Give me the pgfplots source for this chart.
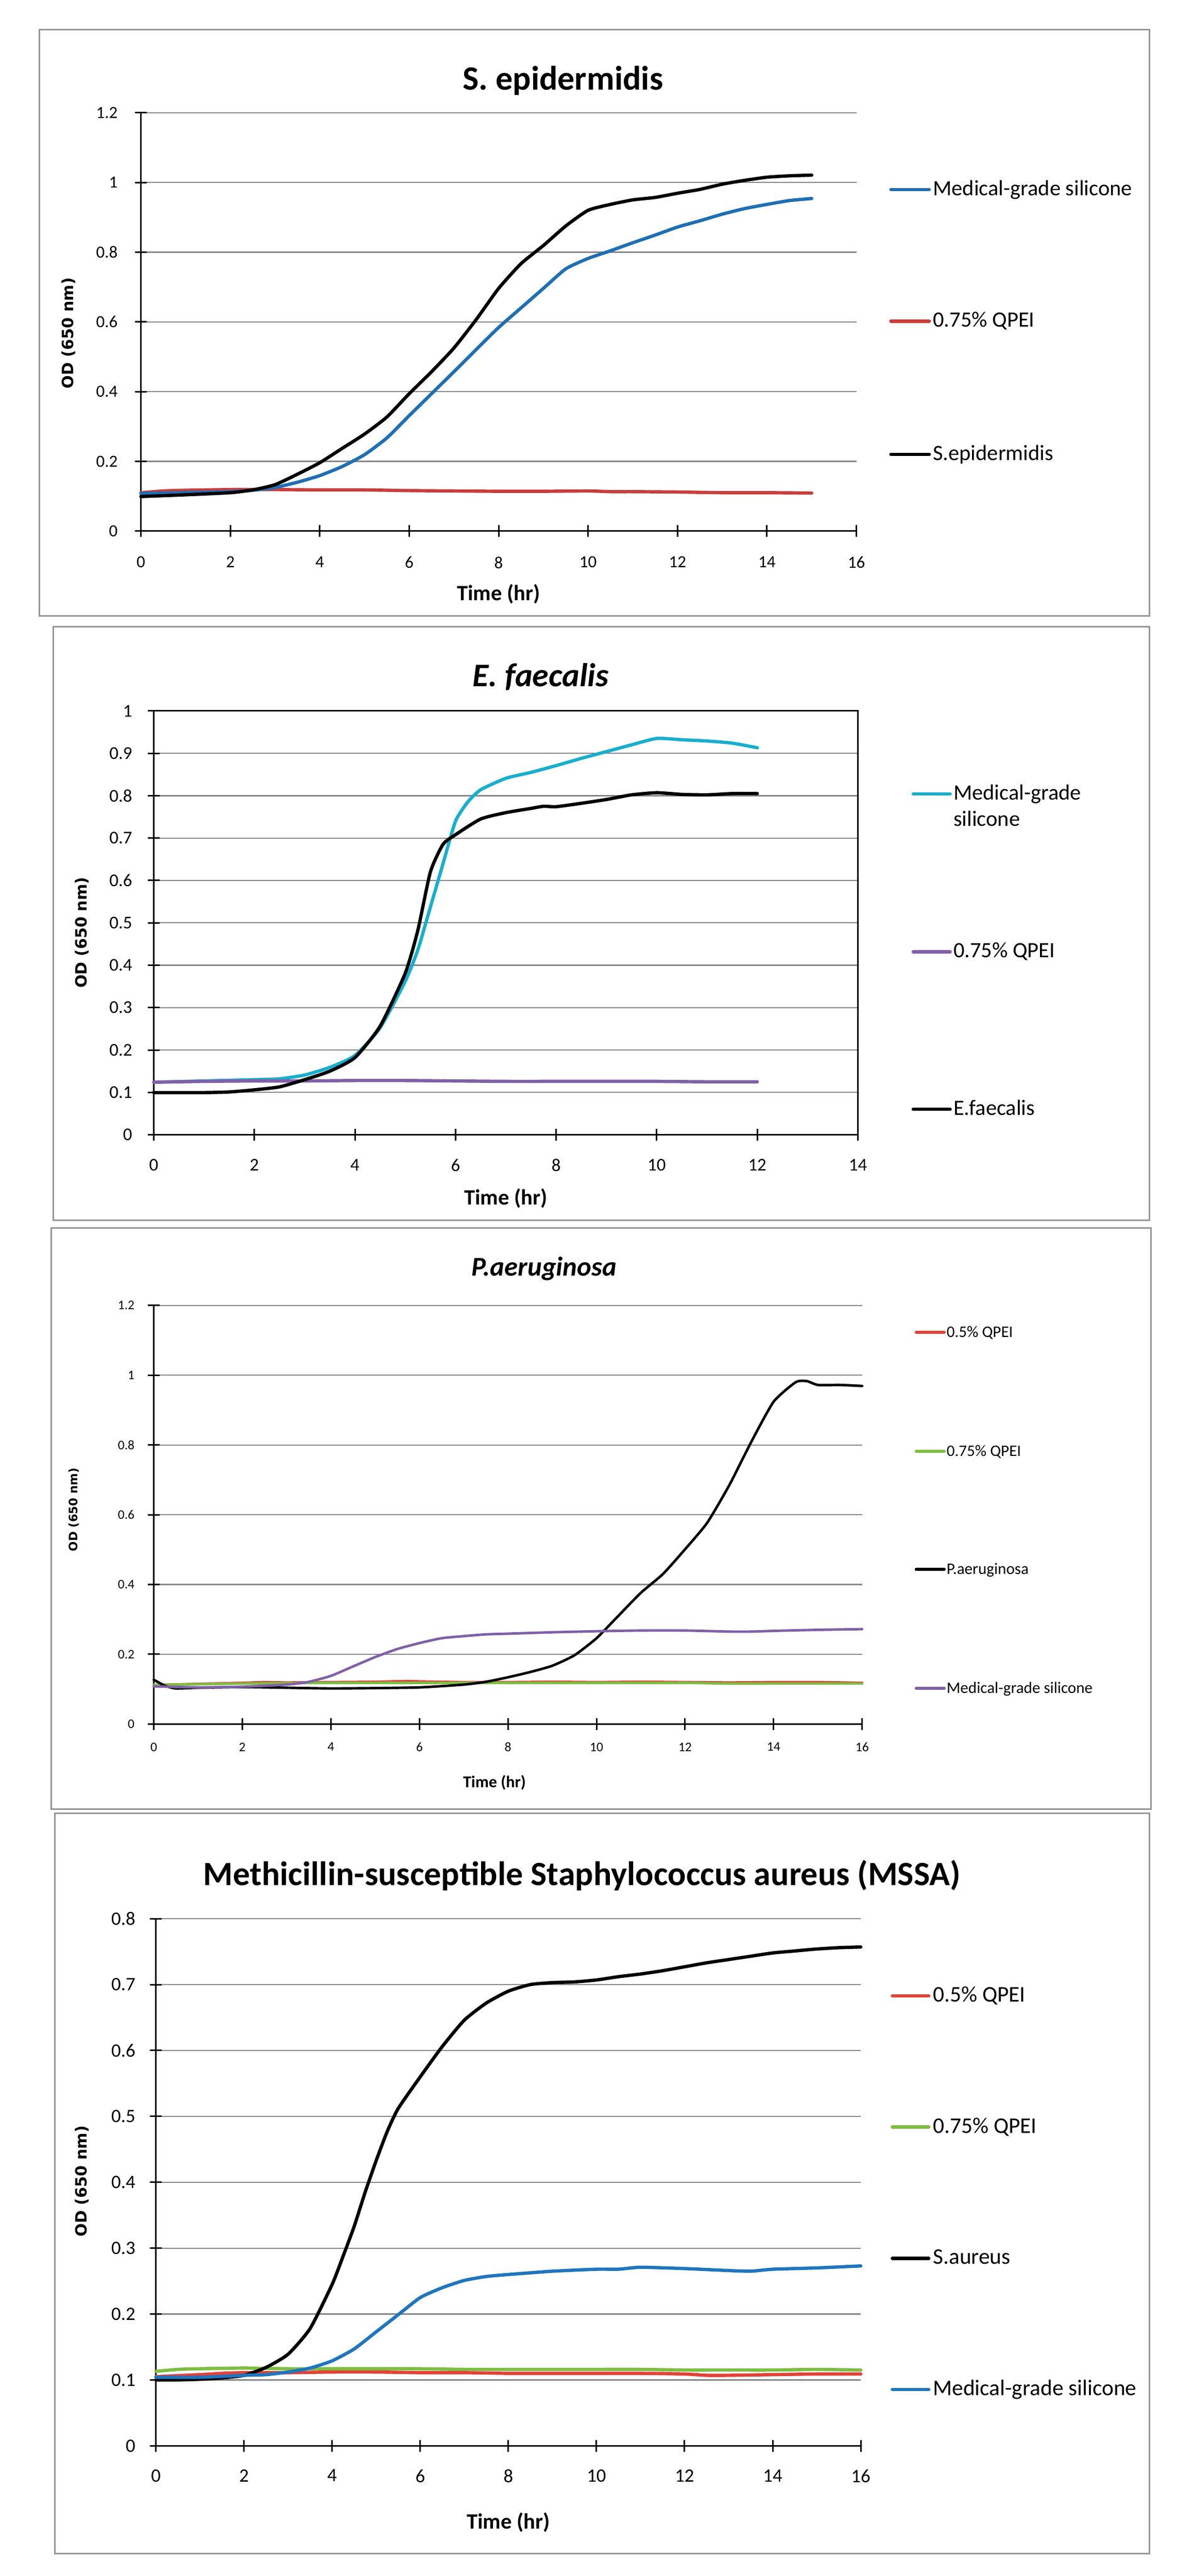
\documentclass[border=0pt]{standalone}
\usepackage{pgfplots}
\pgfplotsset{compat=1.18}
\usepackage{fontspec}
\setmainfont{Carlito}
\newfontfamily\dejavu{DejaVu Sans}
\newcommand{\fs}[1]{\fontsize{#1}{#1}\selectfont}
\definecolor{frameg}{RGB}{150,150,150}
\definecolor{gridg}{RGB}{134,134,134}
\definecolor{pblue}{RGB}{31,111,180}
\definecolor{pred}{RGB}{200,62,60}
\definecolor{pcyan}{RGB}{24,175,205}
\definecolor{ppurple}{RGB}{128,96,168}
\definecolor{pred3}{RGB}{228,66,56}
\definecolor{pgreen}{RGB}{126,190,66}
\definecolor{pblue4}{RGB}{31,118,190}
\pgfplotsset{
  excel/.style={
    scale only axis,
    tick align=center, major tick length=6pt,
    tick style={black, line width=0.8pt},
    ymajorgrids, major grid style={line width=0.6pt, color=gridg},
    /pgf/number format/assume math mode=true,
    xticklabel style={anchor=north, inner sep=0pt},
    yticklabel style={anchor=east, inner sep=0pt},
    every axis plot/.append style={no markers, smooth, tension=0.35, line cap=round, line join=round},
    clip=false,
  },
  noarrows/.style={
    axis line style={-, line width=0.8pt, black},
    x axis line style={-}, y axis line style={-},
  },
}
\begin{document}
\begin{tikzpicture}
\fill[white] (0,0) rectangle (614.25pt,-1325.5pt);
\useasboundingbox (0,0) rectangle (614.25pt,-1325.5pt);
% frames
\draw[frameg, line width=0.8pt] (20.25pt,-15.25pt) rectangle (591.5pt,-317pt);
\draw[frameg, line width=0.8pt] (27.5pt,-322.5pt) rectangle (591.5pt,-628pt);
\draw[frameg, line width=0.8pt] (26.25pt,-631.75pt) rectangle (592.25pt,-931pt);
\draw[frameg, line width=0.8pt] (28.25pt,-933pt) rectangle (591.5pt,-1314pt);

%%%%%%%%%%%%%%%% Panel 1
\begin{axis}[excel, axis lines=left, noarrows,
  at={(72.5pt,-273.25pt)}, anchor=south west,
  width=368.25pt, height=215.25pt,
  xmin=0, xmax=16, ymin=0, ymax=1.2,
  xtick={0,2,...,16}, ytick={0,0.2,0.4,0.6,0.8,1,1.2},
  xticklabel style={font=\fs{8.75pt}, yshift=-10pt},
  yticklabel style={font=\fs{8.75pt}, xshift=-8.75pt},
  xlabel={Time (hr)}, xlabel style={at={(axis description cs:0.5,-0.166)}, anchor=base, font=\fs{11.25pt}\bfseries},
  ylabel={OD (650 nm)}, ylabel style={at={(axis description cs:-0.1012,0.473)}, anchor=center, font=\dejavu\fs{8pt}\bfseries},
  every axis plot/.append style={line width=1.7pt},
]
\addplot[pred] coordinates {(0,0.110) (0.5,0.115) (1,0.117) (2,0.119) (3,0.119) (4,0.118) (5,0.118) (6,0.116) (7,0.115) (8,0.114) (9,0.114) (10,0.115) (10.5,0.113) (11,0.113) (12,0.112) (13,0.110) (14,0.110) (15,0.109)};
\addplot[pblue] coordinates {(0,0.108) (1,0.110) (2,0.113) (2.5,0.117) (3,0.125) (3.5,0.140) (4,0.159) (4.5,0.185) (5,0.219) (5.5,0.267) (6,0.331) (6.5,0.394) (7,0.457) (7.5,0.521) (8,0.584) (8.5,0.640) (9,0.696) (9.5,0.752) (10,0.782) (10.5,0.804) (11,0.827) (11.5,0.849) (12,0.872) (12.5,0.890) (13,0.909) (13.5,0.925) (14,0.937) (14.5,0.948) (15,0.954)};
\addplot[black] coordinates {(0,0.099) (1,0.104) (2,0.110) (2.5,0.118) (3,0.133) (3.5,0.163) (4,0.196) (4.5,0.237) (5,0.278) (5.5,0.327) (6,0.394) (6.5,0.457) (7,0.525) (7.5,0.607) (8,0.696) (8.5,0.767) (9,0.819) (9.5,0.875) (10,0.920) (10.5,0.937) (11,0.950) (11.5,0.957) (12,0.969) (12.5,0.980) (13,0.995) (13.5,1.006) (14,1.015) (14.5,1.019) (15,1.021)};
\end{axis}
\node[font=\fs{17.5pt}\bfseries, anchor=base] at (289.75pt,-46.25pt) {S. epidermidis};
\draw[pblue, line width=1.7pt, line cap=round] (458.5pt,-97.5pt) -- (478.25pt,-97.5pt);
\node[font=\fs{11.25pt}, anchor=base west, inner sep=0pt] at (480pt,-100.5pt) {Medical-grade silicone};
\draw[pred, line width=1.7pt, line cap=round] (458.5pt,-165.25pt) -- (478.25pt,-165.25pt);
\node[font=\fs{11.25pt}, anchor=base west, inner sep=0pt] at (480pt,-168.25pt) {0.75\% QPEI};
\draw[black, line width=1.7pt, line cap=round] (458.5pt,-233.75pt) -- (478.25pt,-233.75pt);
\node[font=\fs{11.25pt}, anchor=base west, inner sep=0pt] at (480pt,-236.75pt) {S.epidermidis};

%%%%%%%%%%%%%%%% Panel 2
\begin{axis}[excel, axis lines=box, xtick pos=left, ytick pos=left,
  axis line style={line width=0.8pt, black},
  at={(79.125pt,-583.9pt)}, anchor=south west,
  width=362.4pt, height=218.1pt,
  xmin=0, xmax=14, ymin=0, ymax=1,
  xtick={0,2,...,14}, ytick={0,0.1,0.2,0.3,0.4,0.5,0.6,0.7,0.8,0.9,1},
  xticklabel style={font=\fs{9.25pt}, yshift=-9.4pt},
  yticklabel style={font=\fs{9.25pt}, xshift=-7.9pt},
  xlabel={Time (hr)}, xlabel style={at={(axis description cs:0.5,-0.165)}, anchor=base, font=\fs{11.25pt}\bfseries},
  ylabel={OD (650 nm)}, ylabel style={at={(axis description cs:-0.1018,0.477)}, anchor=center, font=\dejavu\fs{8pt}\bfseries},
  every axis plot/.append style={line width=1.7pt},
]
\addplot[pcyan] coordinates {(0,0.124) (1,0.127) (2,0.130) (2.5,0.132) (3,0.141) (3.5,0.159) (4,0.187) (4.5,0.252) (5,0.362) (5.25,0.436) (5.5,0.537) (5.75,0.639) (6,0.740) (6.25,0.786) (6.5,0.814) (7,0.841) (7.5,0.855) (8,0.871) (8.5,0.888) (9,0.904) (9.5,0.920) (10,0.935) (10.5,0.932) (11,0.929) (11.5,0.924) (12,0.913)};
\addplot[ppurple] coordinates {(0,0.124) (1,0.126) (2,0.127) (3,0.127) (4,0.128) (5,0.128) (6,0.127) (7,0.126) (8,0.126) (9,0.126) (10,0.126) (11,0.125) (12,0.125)};
\addplot[black] coordinates {(0,0.0995) (1,0.0995) (1.5,0.101) (2,0.106) (2.5,0.113) (3,0.130) (3.5,0.150) (4,0.182) (4.5,0.256) (5,0.381) (5.25,0.482) (5.5,0.620) (5.75,0.685) (6,0.708) (6.5,0.745) (7,0.760) (7.5,0.770) (7.75,0.775) (8,0.774) (8.5,0.782) (9,0.791) (9.5,0.802) (10,0.807) (10.5,0.803) (11,0.802) (11.5,0.805) (12,0.805)};
\end{axis}
\node[font=\fs{17pt}\bfseries\itshape, anchor=base] at (278.25pt,-353.3pt) {E. faecalis};
\draw[pcyan, line width=1.7pt, line cap=round] (470pt,-408.5pt) -- (489pt,-408.5pt);
\node[font=\fs{11.25pt}, anchor=base west, inner sep=0pt] at (490.5pt,-411.5pt) {Medical-grade};
\node[font=\fs{11.25pt}, anchor=base west, inner sep=0pt] at (490.5pt,-425pt) {silicone};
\draw[ppurple, line width=1.7pt, line cap=round] (470pt,-489.75pt) -- (489pt,-489.75pt);
\node[font=\fs{11.25pt}, anchor=base west, inner sep=0pt] at (490.5pt,-492.75pt) {0.75\% QPEI};
\draw[black, line width=1.7pt, line cap=round] (470pt,-570.75pt) -- (489pt,-570.75pt);
\node[font=\fs{11.25pt}, anchor=base west, inner sep=0pt] at (490.5pt,-573.75pt) {E.faecalis};

%%%%%%%%%%%%%%%% Panel 3
\begin{axis}[excel, axis lines=left, noarrows,
  at={(79.125pt,-887.1pt)}, anchor=south west,
  width=364.6pt, height=215.4pt,
  xmin=0, xmax=16, ymin=0, ymax=1.2,
  xtick={0,2,...,16}, ytick={0,0.2,0.4,0.6,0.8,1,1.2},
  xticklabel style={font=\fs{6.75pt}, yshift=-6.4pt},
  yticklabel style={font=\fs{6.75pt}, xshift=-6.7pt},
  xlabel={Time (hr)}, xlabel style={at={(axis description cs:0.481,-0.1515)}, anchor=base, font=\fs{8.5pt}\bfseries},
  ylabel={OD (650 nm)}, ylabel style={at={(axis description cs:-0.1128,0.512)}, anchor=center, font=\dejavu\fs{6pt}\bfseries},
  every axis plot/.append style={line width=1.3pt},
]
\addplot[pred3] coordinates {(0,0.112) (1,0.115) (2,0.118) (2.5,0.120) (3,0.119) (4,0.120) (5,0.121) (5.75,0.123) (6,0.122) (7,0.120) (8,0.120) (9,0.121) (10,0.120) (11,0.121) (12,0.120) (13,0.119) (14,0.120) (15,0.120) (16,0.118)};
\addplot[pgreen] coordinates {(0,0.112) (1,0.114) (2,0.116) (3,0.117) (4,0.118) (5,0.118) (6,0.118) (7,0.118) (8,0.118) (9,0.118) (10,0.118) (11,0.118) (12,0.118) (13,0.116) (14,0.116) (15,0.116) (16,0.116)};
\addplot[black] coordinates {(0,0.127) (0.25,0.110) (0.5,0.102) (1,0.104) (2,0.106) (3,0.104) (4,0.102) (5,0.103) (6,0.105) (7,0.113) (7.5,0.121) (8,0.134) (8.5,0.149) (9,0.167) (9.5,0.197) (10,0.246) (10.5,0.311) (11,0.376) (11.5,0.430) (12,0.501) (12.5,0.577) (13,0.685) (13.5,0.810) (14,0.924) (14.5,0.980) (14.75,0.983) (15,0.972) (15.5,0.972) (16,0.969)};
\addplot[ppurple] coordinates {(0,0.108) (1,0.105) (2,0.107) (3,0.113) (3.5,0.121) (4,0.138) (4.5,0.165) (5,0.192) (5.5,0.215) (6,0.232) (6.5,0.246) (7,0.252) (7.5,0.257) (8,0.259) (9,0.263) (10,0.266) (11,0.268) (12,0.268) (13,0.265) (13.5,0.265) (14,0.267) (15,0.270) (16,0.272)};
\end{axis}
\node[font=\fs{14pt}\bfseries\itshape, anchor=base] at (280pt,-656.6pt) {P.aeruginosa};
\draw[pred3, line width=1.5pt, line cap=round] (471.5pt,-685.5pt) -- (486pt,-685.5pt);
\node[font=\fs{8.25pt}, anchor=base west, inner sep=0pt] at (487pt,-688pt) {0.5\% QPEI};
\draw[pgreen, line width=1.5pt, line cap=round] (471.5pt,-746.75pt) -- (486pt,-746.75pt);
\node[font=\fs{8.25pt}, anchor=base west, inner sep=0pt] at (487pt,-749.25pt) {0.75\% QPEI};
\draw[black, line width=1.5pt, line cap=round] (471.5pt,-807.5pt) -- (486pt,-807.5pt);
\node[font=\fs{8.25pt}, anchor=base west, inner sep=0pt] at (487pt,-810pt) {P.aeruginosa};
\draw[ppurple, line width=1.5pt, line cap=round] (471.5pt,-868.75pt) -- (486pt,-868.75pt);
\node[font=\fs{8.25pt}, anchor=base west, inner sep=0pt] at (487pt,-871.25pt) {Medical-grade silicone};

%%%%%%%%%%%%%%%% Panel 4
\begin{axis}[excel, axis lines=left, noarrows,
  at={(80.25pt,-1258.5pt)}, anchor=south west,
  width=362.75pt, height=271.25pt,
  xmin=0, xmax=16, ymin=0, ymax=0.8,
  xtick={0,2,...,16}, ytick={0,0.1,0.2,0.3,0.4,0.5,0.6,0.7,0.8},
  xticklabel style={font=\fs{9.75pt}, yshift=-9pt},
  yticklabel style={font=\fs{9.75pt}, xshift=-7.4pt},
  xlabel={Time (hr)}, xlabel style={at={(axis description cs:0.5,-0.1576)}, anchor=base, font=\fs{11.25pt}\bfseries},
  ylabel={OD (650 nm)}, ylabel style={at={(axis description cs:-0.1048,0.502)}, anchor=center, font=\dejavu\fs{8pt}\bfseries},
  every axis plot/.append style={line width=1.7pt},
]
\addplot[pred3] coordinates {(0,0.105) (1,0.108) (1.5,0.110) (2,0.111) (3,0.111) (4,0.112) (5,0.112) (6,0.111) (7,0.111) (8,0.110) (9,0.110) (10,0.110) (11,0.110) (12,0.109) (12.5,0.107) (13,0.107) (14,0.108) (15,0.109) (16,0.109)};
\addplot[pgreen] coordinates {(0,0.113) (0.5,0.116) (1,0.117) (2,0.118) (3,0.117) (4,0.117) (5,0.117) (6,0.117) (7,0.116) (8,0.116) (9,0.116) (10,0.116) (11,0.116) (12,0.115) (13,0.115) (14,0.115) (15,0.116) (16,0.115)};
\addplot[black] coordinates {(0,0.100) (0.5,0.100) (1,0.101) (1.5,0.103) (2,0.107) (2.5,0.119) (3,0.139) (3.5,0.178) (4,0.245) (4.25,0.288) (4.5,0.333) (4.75,0.385) (5,0.433) (5.25,0.477) (5.5,0.512) (6,0.560) (6.5,0.606) (7,0.646) (7.5,0.672) (8,0.690) (8.5,0.700) (9,0.703) (9.5,0.704) (10,0.707) (10.5,0.712) (11,0.716) (11.5,0.721) (12,0.727) (12.5,0.733) (13,0.738) (13.5,0.743) (14,0.748) (14.5,0.751) (15,0.754) (15.5,0.756) (16,0.757)};
\addplot[pblue4] coordinates {(0,0.104) (1,0.104) (2,0.107) (2.5,0.108) (3,0.112) (3.5,0.118) (4,0.129) (4.5,0.147) (5,0.173) (5.5,0.199) (6,0.225) (6.5,0.240) (7,0.251) (7.5,0.257) (8,0.260) (9,0.265) (10,0.268) (10.5,0.268) (11,0.271) (12,0.269) (13,0.266) (13.5,0.265) (14,0.268) (15,0.270) (16,0.273)};
\end{axis}
\node[font=\fs{17.5pt}\bfseries, anchor=base] at (299.5pt,-970pt) {Methicillin-susceptible Staphylococcus aureus (MSSA)};
\draw[pred3, line width=1.7pt, line cap=round] (459.25pt,-1027pt) -- (478pt,-1027pt);
\node[font=\fs{11.5pt}, anchor=base west, inner sep=0pt] at (480pt,-1030pt) {0.5\% QPEI};
\draw[pgreen, line width=1.7pt, line cap=round] (459.25pt,-1094.5pt) -- (478pt,-1094.5pt);
\node[font=\fs{11.5pt}, anchor=base west, inner sep=0pt] at (480pt,-1097.5pt) {0.75\% QPEI};
\draw[black, line width=1.7pt, line cap=round] (459.25pt,-1162pt) -- (478pt,-1162pt);
\node[font=\fs{11.5pt}, anchor=base west, inner sep=0pt] at (480pt,-1165pt) {S.aureus};
\draw[pblue4, line width=1.7pt, line cap=round] (459.25pt,-1229.5pt) -- (478pt,-1229.5pt);
\node[font=\fs{11.5pt}, anchor=base west, inner sep=0pt] at (480pt,-1232.5pt) {Medical-grade silicone};
\end{tikzpicture}
\end{document}
